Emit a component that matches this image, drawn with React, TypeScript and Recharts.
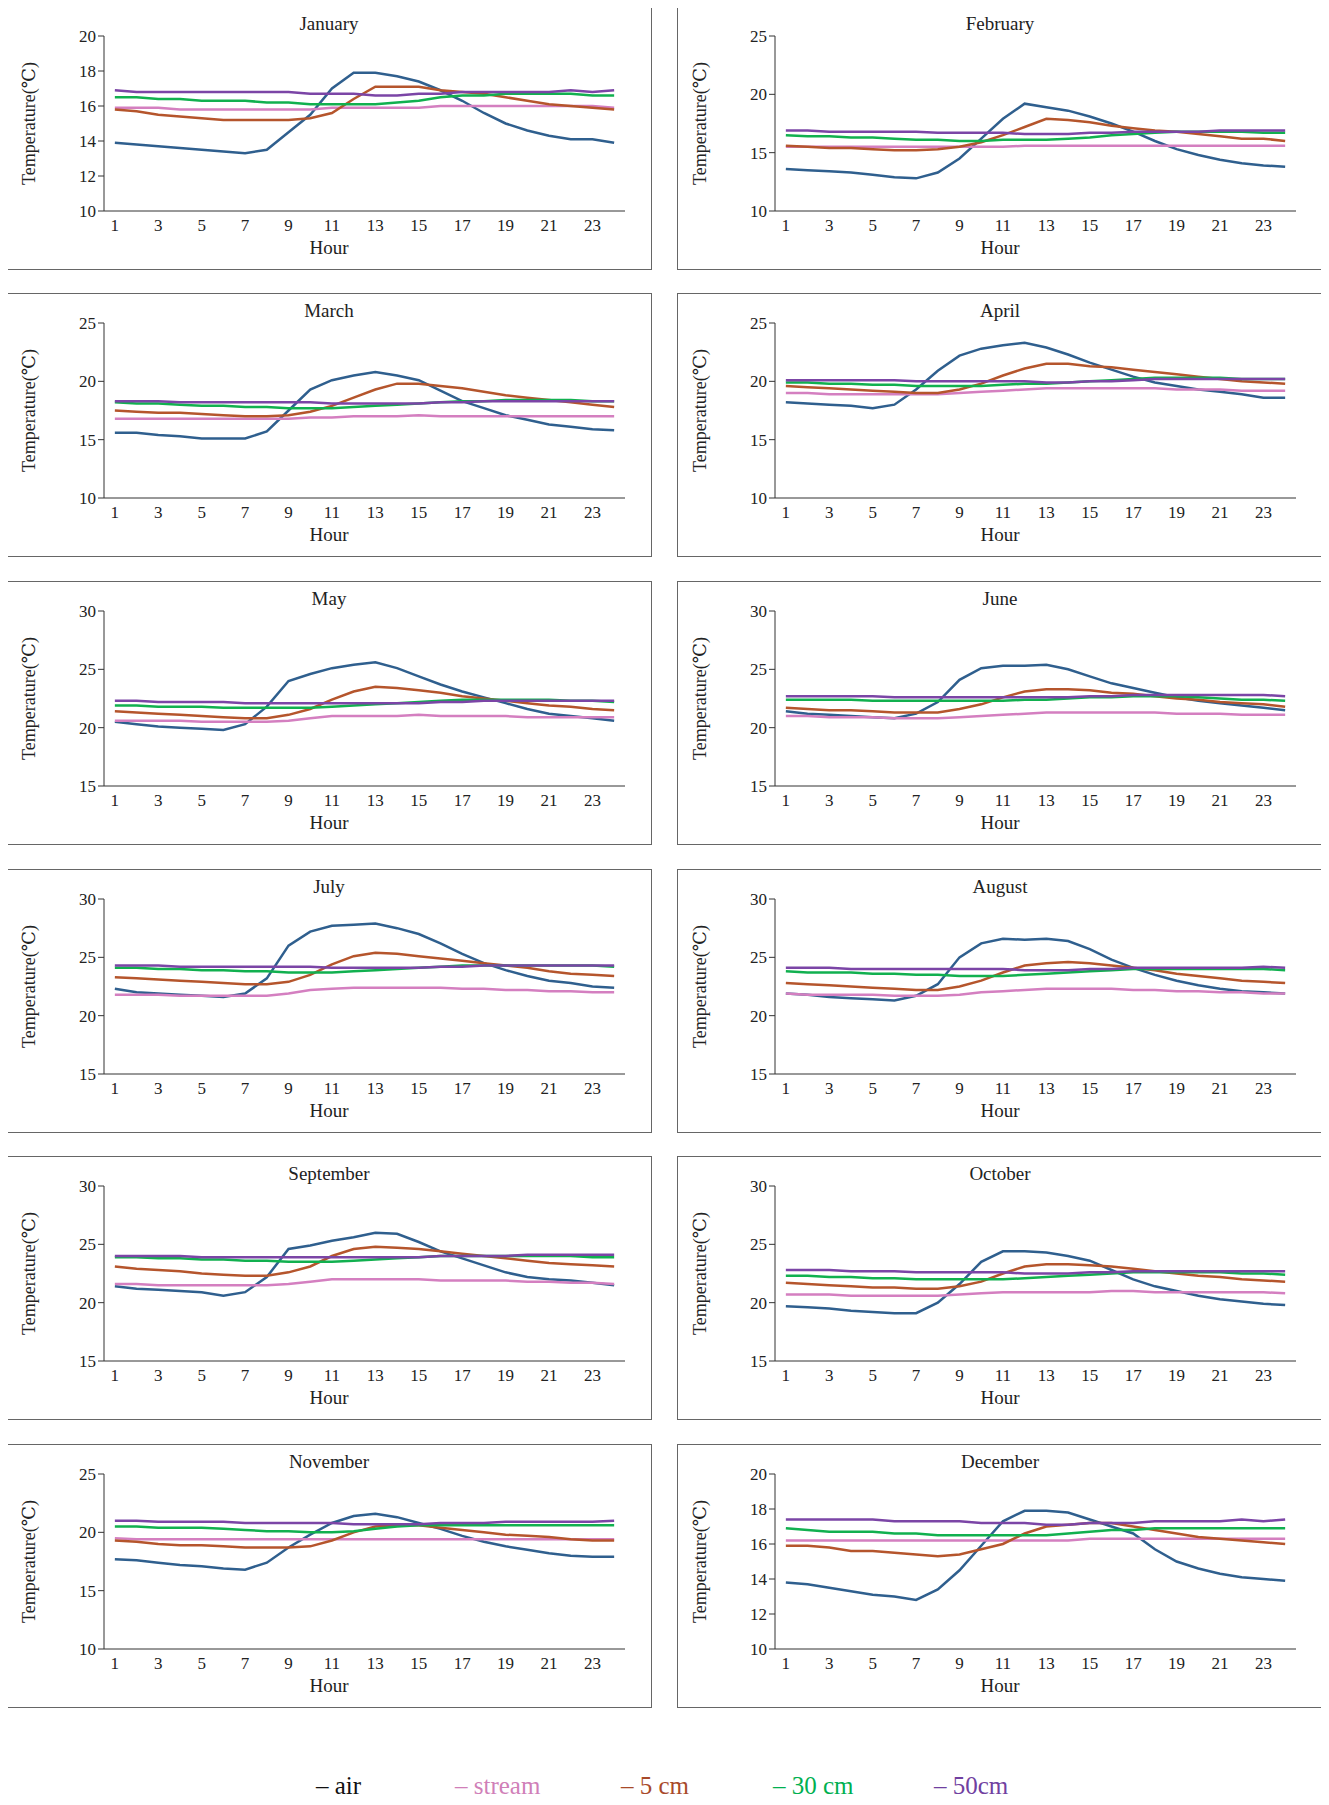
import React from "react";
import { LineChart, Line, XAxis, YAxis } from "recharts";

const hours = Array.from({ length: 24 }, (_, i) => i + 1);
const xTicks = [1, 3, 5, 7, 9, 11, 13, 15, 17, 19, 21, 23];
const months = ["January","February","March","April","May","June","July","August","September","October","November","December"];
const yDomains: [number, number, number][] = [
  [10, 20, 2],[10, 25, 5],[10, 25, 5],[10, 25, 5],[15, 30, 5],[15, 30, 5],
  [15, 30, 5],[15, 30, 5],[15, 30, 5],[15, 30, 5],[10, 25, 5],[10, 20, 2],
];

const air = [
  [13.9,13.8,13.7,13.6,13.5,13.4,13.3,13.5,14.5,15.5,17,17.9,17.9,17.7,17.4,16.9,16.3,15.6,15,14.6,14.3,14.1,14.1,13.9],
  [13.6,13.5,13.4,13.3,13.1,12.9,12.8,13.3,14.5,16.2,17.9,19.2,18.9,18.6,18.1,17.5,16.8,16,15.3,14.8,14.4,14.1,13.9,13.8],
  [15.6,15.6,15.4,15.3,15.1,15.1,15.1,15.7,17.5,19.3,20.1,20.5,20.8,20.5,20.1,19.2,18.3,17.7,17.1,16.7,16.3,16.1,15.9,15.8],
  [18.2,18.1,18,17.9,17.7,18,19.3,20.9,22.2,22.8,23.1,23.3,22.9,22.3,21.6,21,20.4,19.9,19.6,19.3,19.1,18.9,18.6,18.6],
  [20.5,20.3,20.1,20,19.9,19.8,20.3,21.8,24,24.6,25.1,25.4,25.6,25.1,24.4,23.7,23.1,22.6,22.1,21.6,21.2,21,20.8,20.6],
  [21.4,21.2,21.1,21,20.9,20.8,21.2,22.2,24.1,25.1,25.3,25.3,25.4,25,24.4,23.8,23.4,23,22.6,22.3,22.1,21.9,21.7,21.5],
  [22.3,22,21.9,21.8,21.7,21.6,21.9,23.2,26,27.2,27.7,27.8,27.9,27.5,27,26.2,25.3,24.5,23.9,23.4,23,22.8,22.5,22.4],
  [21.9,21.8,21.6,21.5,21.4,21.3,21.7,22.7,25,26.2,26.6,26.5,26.6,26.4,25.7,24.8,24.1,23.5,23,22.6,22.3,22.1,22,21.9],
  [21.4,21.2,21.1,21,20.9,20.6,20.9,22.2,24.6,24.9,25.3,25.6,26,25.9,25.2,24.4,23.8,23.2,22.6,22.2,22,21.9,21.7,21.5],
  [19.7,19.6,19.5,19.3,19.2,19.1,19.1,20,21.6,23.5,24.4,24.4,24.3,24,23.6,22.8,22,21.4,21,20.6,20.3,20.1,19.9,19.8],
  [17.7,17.6,17.4,17.2,17.1,16.9,16.8,17.4,18.7,19.8,20.8,21.4,21.6,21.3,20.8,20.3,19.7,19.2,18.8,18.5,18.2,18,17.9,17.9],
  [13.8,13.7,13.5,13.3,13.1,13,12.8,13.4,14.5,15.9,17.3,17.9,17.9,17.8,17.4,17,16.6,15.7,15,14.6,14.3,14.1,14,13.9],
];
const stream = [
  [15.9,15.9,15.9,15.8,15.8,15.8,15.8,15.8,15.8,15.8,15.9,15.9,15.9,15.9,15.9,16,16,16,16,16,16,16,16,15.9],
  [15.5,15.5,15.5,15.5,15.5,15.5,15.5,15.5,15.5,15.5,15.5,15.6,15.6,15.6,15.6,15.6,15.6,15.6,15.6,15.6,15.6,15.6,15.6,15.6],
  [16.8,16.8,16.8,16.8,16.8,16.8,16.8,16.8,16.8,16.9,16.9,17,17,17,17.1,17,17,17,17,17,17,17,17,17],
  [19,19,18.9,18.9,18.9,18.9,18.9,18.9,19,19.1,19.2,19.3,19.4,19.4,19.4,19.4,19.4,19.4,19.3,19.3,19.3,19.2,19.2,19.2],
  [20.6,20.6,20.6,20.6,20.5,20.5,20.5,20.5,20.6,20.8,21,21,21,21,21.1,21,21,21,21,20.9,20.9,20.9,20.9,20.9],
  [21,21,20.9,20.9,20.9,20.8,20.8,20.8,20.9,21,21.1,21.2,21.3,21.3,21.3,21.3,21.3,21.3,21.2,21.2,21.2,21.1,21.1,21.1],
  [21.8,21.8,21.8,21.7,21.7,21.7,21.7,21.7,21.9,22.2,22.3,22.4,22.4,22.4,22.4,22.4,22.3,22.3,22.2,22.2,22.1,22.1,22,22],
  [21.9,21.8,21.8,21.8,21.8,21.7,21.7,21.7,21.8,22,22.1,22.2,22.3,22.3,22.3,22.3,22.2,22.2,22.1,22.1,22,22,21.9,21.9],
  [21.6,21.6,21.5,21.5,21.5,21.5,21.5,21.5,21.6,21.8,22,22,22,22,22,21.9,21.9,21.9,21.9,21.8,21.8,21.7,21.7,21.6],
  [20.7,20.7,20.7,20.6,20.6,20.6,20.6,20.6,20.7,20.8,20.9,20.9,20.9,20.9,20.9,21,21,20.9,20.9,20.9,20.9,20.9,20.9,20.8],
  [19.5,19.4,19.4,19.4,19.4,19.4,19.4,19.4,19.4,19.4,19.4,19.4,19.4,19.4,19.4,19.4,19.4,19.4,19.4,19.4,19.4,19.4,19.4,19.4],
  [16.2,16.2,16.2,16.2,16.2,16.2,16.2,16.2,16.2,16.2,16.2,16.2,16.2,16.2,16.3,16.3,16.3,16.3,16.3,16.3,16.3,16.3,16.3,16.3],
];
const cm5 = [
  [15.8,15.7,15.5,15.4,15.3,15.2,15.2,15.2,15.2,15.3,15.6,16.4,17.1,17.1,17.1,16.9,16.8,16.7,16.5,16.3,16.1,16,15.9,15.8],
  [15.6,15.5,15.4,15.4,15.3,15.2,15.2,15.3,15.5,15.9,16.5,17.2,17.9,17.8,17.6,17.3,17.1,16.9,16.8,16.6,16.4,16.2,16.2,16.0],
  [17.5,17.4,17.3,17.3,17.2,17.1,17,17,17.1,17.4,17.9,18.6,19.3,19.8,19.8,19.6,19.4,19.1,18.8,18.6,18.4,18.2,18,17.8],
  [19.6,19.5,19.4,19.3,19.2,19.1,19,19,19.3,19.8,20.5,21.1,21.5,21.5,21.3,21.2,21,20.8,20.6,20.4,20.2,20,19.9,19.8],
  [21.4,21.3,21.2,21.1,21,20.9,20.8,20.8,21.1,21.6,22.4,23.1,23.5,23.4,23.2,23,22.7,22.5,22.3,22.1,21.9,21.8,21.6,21.5],
  [21.7,21.6,21.5,21.5,21.4,21.3,21.3,21.3,21.6,22,22.6,23.1,23.3,23.3,23.2,23,22.9,22.7,22.5,22.4,22.2,22.1,22,21.8],
  [23.3,23.2,23.1,23,22.9,22.8,22.7,22.7,22.9,23.5,24.4,25.1,25.4,25.3,25.1,24.9,24.7,24.5,24.3,24.1,23.8,23.6,23.5,23.4],
  [22.8,22.7,22.6,22.5,22.4,22.3,22.2,22.2,22.5,23,23.7,24.3,24.5,24.6,24.5,24.3,24.1,23.9,23.6,23.4,23.2,23,22.9,22.8],
  [23.1,22.9,22.8,22.7,22.5,22.4,22.3,22.3,22.6,23.1,24,24.6,24.8,24.7,24.6,24.4,24.2,24,23.8,23.6,23.4,23.3,23.2,23.1],
  [21.7,21.6,21.5,21.4,21.3,21.3,21.2,21.2,21.4,21.8,22.5,23.1,23.3,23.3,23.2,23.1,22.9,22.7,22.5,22.3,22.2,22,21.9,21.8],
  [19.3,19.2,19,18.9,18.9,18.8,18.7,18.7,18.7,18.8,19.3,20,20.5,20.6,20.6,20.4,20.2,20,19.8,19.7,19.6,19.4,19.3,19.3],
  [15.9,15.9,15.8,15.6,15.6,15.5,15.4,15.3,15.4,15.7,16,16.6,17,17.1,17.2,17.2,17,16.8,16.6,16.4,16.3,16.2,16.1,16],
];
const cm30 = [
  [16.5,16.5,16.4,16.4,16.3,16.3,16.3,16.2,16.2,16.1,16.1,16.1,16.1,16.2,16.3,16.5,16.6,16.6,16.7,16.7,16.7,16.7,16.6,16.6],
  [16.5,16.4,16.4,16.3,16.3,16.2,16.1,16.1,16.0,16.0,16.1,16.1,16.1,16.2,16.3,16.5,16.6,16.7,16.8,16.8,16.8,16.8,16.7,16.7],
  [18.2,18.1,18.1,18,17.9,17.9,17.8,17.8,17.7,17.7,17.7,17.8,17.9,18,18.1,18.2,18.3,18.3,18.4,18.4,18.4,18.4,18.3,18.3],
  [19.9,19.9,19.8,19.8,19.7,19.7,19.6,19.6,19.6,19.6,19.7,19.8,19.8,19.9,20,20.1,20.2,20.3,20.3,20.3,20.3,20.2,20.2,20.2],
  [21.9,21.9,21.8,21.8,21.8,21.7,21.7,21.7,21.7,21.7,21.8,21.9,22,22.1,22.2,22.3,22.4,22.4,22.4,22.4,22.4,22.3,22.3,22.2],
  [22.4,22.4,22.4,22.4,22.3,22.3,22.3,22.3,22.3,22.3,22.3,22.4,22.4,22.5,22.6,22.6,22.7,22.7,22.7,22.6,22.5,22.4,22.4,22.3],
  [24.1,24.1,24,24,23.9,23.9,23.8,23.8,23.7,23.7,23.7,23.8,23.9,24,24.1,24.2,24.3,24.3,24.3,24.3,24.3,24.3,24.3,24.2],
  [23.8,23.7,23.7,23.7,23.6,23.6,23.5,23.5,23.4,23.4,23.4,23.5,23.6,23.7,23.8,23.9,24,24,24,24,24,24,24,23.9],
  [23.9,23.9,23.8,23.8,23.7,23.7,23.6,23.6,23.5,23.5,23.5,23.6,23.7,23.8,23.9,24,24,24,24,24,24,24,23.9,23.9],
  [22.3,22.3,22.2,22.2,22.1,22.1,22,22,22,22,22,22.1,22.2,22.3,22.4,22.5,22.6,22.6,22.6,22.6,22.6,22.5,22.5,22.4],
  [20.5,20.5,20.4,20.4,20.4,20.3,20.2,20.1,20.1,20,20,20.1,20.3,20.5,20.6,20.6,20.6,20.6,20.6,20.6,20.6,20.6,20.6,20.6],
  [16.9,16.8,16.7,16.7,16.7,16.6,16.6,16.5,16.5,16.5,16.5,16.5,16.5,16.6,16.7,16.8,16.8,16.9,16.9,16.9,16.9,16.9,16.9,16.9],
];
const cm50 = [
  [16.9,16.8,16.8,16.8,16.8,16.8,16.8,16.8,16.8,16.7,16.7,16.7,16.6,16.6,16.7,16.7,16.8,16.8,16.8,16.8,16.8,16.9,16.8,16.9],
  [16.9,16.9,16.8,16.8,16.8,16.8,16.8,16.7,16.7,16.7,16.7,16.6,16.6,16.6,16.7,16.7,16.8,16.8,16.8,16.8,16.9,16.9,16.9,16.9],
  [18.3,18.3,18.3,18.2,18.2,18.2,18.2,18.2,18.2,18.2,18.1,18.1,18.1,18.1,18.1,18.2,18.2,18.3,18.3,18.3,18.3,18.3,18.3,18.3],
  [20.1,20.1,20.1,20.1,20.1,20.1,20,20,20,20,20,20,19.9,19.9,20,20,20.1,20.2,20.2,20.2,20.2,20.2,20.2,20.2],
  [22.3,22.3,22.2,22.2,22.2,22.2,22.1,22.1,22.1,22.1,22.1,22.1,22.1,22.1,22.1,22.2,22.2,22.3,22.3,22.3,22.3,22.3,22.3,22.3],
  [22.7,22.7,22.7,22.7,22.7,22.6,22.6,22.6,22.6,22.6,22.6,22.6,22.6,22.6,22.7,22.7,22.8,22.8,22.8,22.8,22.8,22.8,22.8,22.7],
  [24.3,24.3,24.3,24.2,24.2,24.2,24.2,24.2,24.2,24.2,24.1,24.1,24.1,24.1,24.1,24.2,24.2,24.3,24.3,24.3,24.3,24.3,24.3,24.3],
  [24.1,24.1,24.1,24,24,24,24,24,24,24,24,23.9,23.9,23.9,24,24,24.1,24.1,24.1,24.1,24.1,24.1,24.2,24.1],
  [24,24,24,24,23.9,23.9,23.9,23.9,23.9,23.9,23.9,23.9,23.9,23.9,23.9,24,24,24,24,24.1,24.1,24.1,24.1,24.1],
  [22.8,22.8,22.8,22.7,22.7,22.7,22.6,22.6,22.6,22.6,22.6,22.5,22.5,22.5,22.6,22.6,22.7,22.7,22.7,22.7,22.7,22.7,22.7,22.7],
  [21,21,20.9,20.9,20.9,20.9,20.8,20.8,20.8,20.8,20.8,20.7,20.7,20.7,20.7,20.8,20.8,20.8,20.9,20.9,20.9,20.9,20.9,21],
  [17.4,17.4,17.4,17.4,17.4,17.3,17.3,17.3,17.3,17.2,17.2,17.2,17.1,17.1,17.2,17.2,17.2,17.3,17.3,17.3,17.3,17.4,17.3,17.4],
];

const series = [
  { key: "air", name: "air", color: "#2f5f8e", text: "#111", dash: "#111" },
  { key: "stream", name: "stream", color: "#d47fc0", text: "#d07fb8", dash: "#d07fb8" },
  { key: "cm5", name: "5 cm", color: "#b5552c", text: "#a84a2a", dash: "#a84a2a" },
  { key: "cm30", name: "30 cm", color: "#11b04f", text: "#00b050", dash: "#00b050" },
  { key: "cm50", name: "50cm", color: "#7b45a6", text: "#7040a0", dash: "#7040a0" },
];

const FONT = "'Liberation Serif', 'DejaVu Serif', serif";
const PW = 646, PH = 264;
const colX = [6, 677];
const rowY = [6, 293, 581, 869, 1156, 1444];

function Panel({ m }: { m: number }) {
  const data = hours.map((h, i) => ({
    hour: h, air: air[m][i], stream: stream[m][i], cm5: cm5[m][i], cm30: cm30[m][i], cm50: cm50[m][i],
  }));
  const [lo, hi, st] = yDomains[m];
  const yt: number[] = [];
  for (let v = lo; v <= hi; v += st) yt.push(v);
  const left = colX[m % 2], top = rowY[Math.floor(m / 2)];
  return (
    <div style={{ position: "absolute", left, top, width: PW, height: PH, border: "1px solid #666", boxSizing: "border-box" }}>
      <div style={{ position: "absolute", top: 6, width: "100%", textAlign: "center", fontFamily: FONT, fontSize: 19, color: "#222" }}>{months[m]}</div>
      <div style={{ position: "absolute", top: 230, width: "100%", textAlign: "center", fontFamily: FONT, fontSize: 19, color: "#222" }}>Hour</div>
      <LineChart width={PW - 2} height={PH - 2} data={data} margin={{ top: 29, right: 26, left: 0, bottom: 8 }}>
        <XAxis dataKey="hour" type="number" domain={[0.5, 24.5]} ticks={xTicks} interval={0}
          tick={{ fontFamily: FONT, fontSize: 17, fill: "#222" }} tickLine={false} axisLine={{ stroke: "#333" }}
          height={50} />
        <YAxis domain={[lo, hi]} ticks={yt} interval={0} width={97}
          tick={{ fontFamily: FONT, fontSize: 17, fill: "#222" }} tickLine={{ stroke: "#333" }} axisLine={{ stroke: "#333" }}
          label={{ value: "Temperature(℃)", angle: -90, position: "insideLeft", offset: 22, style: { fontFamily: FONT, fontSize: 18, fill: "#222", textAnchor: "middle" } }} />
        {series.map((s) => (
          <Line key={s.key} dataKey={s.key} stroke={s.color} strokeWidth={2.5} dot={false} type="linear" isAnimationActive={false} />
        ))}
      </LineChart>
    </div>
  );
}

const legendX = [316, 455, 621, 773, 934];

export default function App() {
  return (
    <div style={{ position: "relative", width: 1329, height: 1805, background: "#fff", margin: -8 }}>
      {months.map((_, m) => <Panel key={m} m={m} />)}
      {series.map((s, i) => (
        <div key={s.key} style={{ position: "absolute", left: legendX[i], top: 1772, fontFamily: FONT, fontSize: 25, color: s.text, whiteSpace: "nowrap" }}>
          <span style={{ color: s.dash }}>–</span> {s.name}
        </div>
      ))}
    </div>
  );
}
